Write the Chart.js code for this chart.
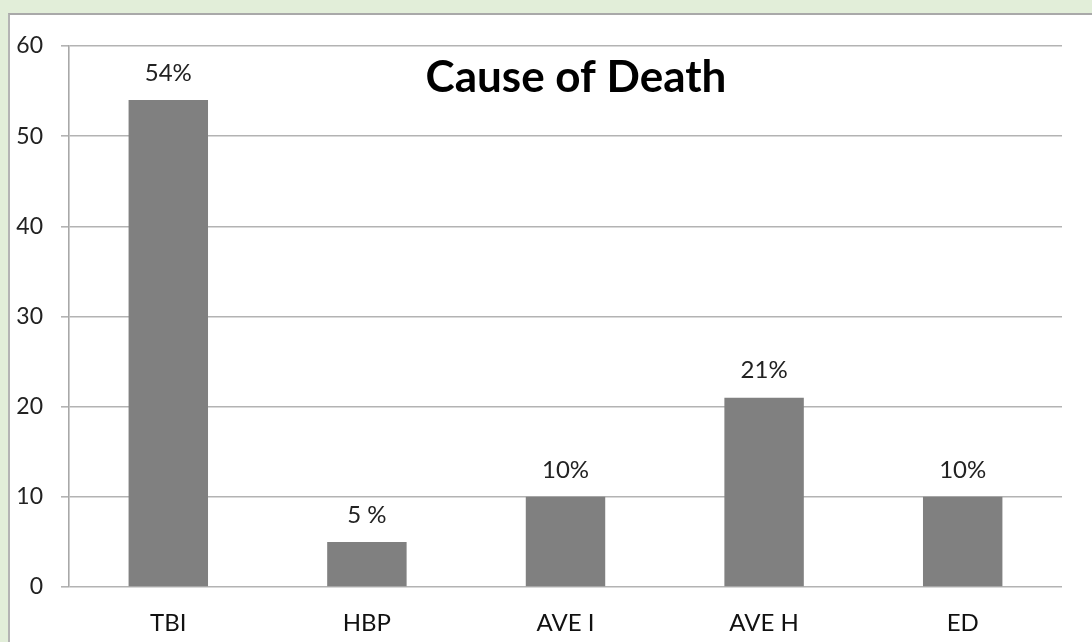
<!DOCTYPE html>
<html>
<head>
<meta charset="utf-8">
<script src="https://cdn.jsdelivr.net/npm/chart.js@4"></script>
<style>
  html, body { margin: 0; padding: 0; }
  body { width: 1092px; height: 642px; background: #e2eed9; position: relative; overflow: hidden; }
  #panel { position: absolute; left: 8px; top: 13px; right: 0; bottom: 0; background: #fff;
           border-top: 2px solid #a9a9a9; border-left: 2px solid #b4b4b4; }
  #wrap { position: absolute; left: 0; top: 0; width: 1092px; height: 642px; }
</style>
</head>
<body>
<div id="panel"></div>
<div id="wrap"><canvas id="deathChart"></canvas></div>
<script>
// Données
const causes = ['TBI', 'HBP', 'AVE I', 'AVE H', 'ED'];
const deaths = [54, 5, 10, 21, 10];
const pctLabels = ['54%', '5 %', '10%', '21%', '10%'];
const chartTitle = 'Cause of Death';

const fontFam = 'Lato, "Open Sans", sans-serif';

// Titre + étiquettes au-dessus des barres
const overlay = {
    id: 'overlay',
    afterDatasetsDraw(chart) {
        const ctx = chart.ctx;
        const meta = chart.getDatasetMeta(0);
        ctx.save();
        ctx.fillStyle = '#222';
        ctx.font = '24px ' + fontFam;
        ctx.textAlign = 'center';
        ctx.textBaseline = 'middle';
        meta.data.forEach(function(bar, i) {
            ctx.fillText(pctLabels[i], bar.x, bar.y - 27);
        });
        ctx.fillStyle = '#000';
        ctx.font = 'bold 44px ' + fontFam;
        ctx.fillText(chartTitle, 576, 78);
        ctx.restore();
    }
};

const ctx = document.getElementById('deathChart').getContext('2d');
new Chart(ctx, {
    type: 'bar',
    data: {
        labels: causes,
        datasets: [{
            data: deaths,
            backgroundColor: '#808080',
            borderWidth: 0,
            categoryPercentage: 1,
            barPercentage: 0.4
        }]
    },
    options: {
        responsive: true,
        maintainAspectRatio: false,
        animation: false,
        layout: { padding: { top: 46, right: 30, left: 0, bottom: 0 } },
        plugins: {
            legend: { display: false },
            tooltip: { enabled: false }
        },
        scales: {
            x: {
                grid: { display: false },
                border: { display: false },
                ticks: { color: '#111', font: { size: 24, family: fontFam }, padding: 14 },
                afterFit(scale) { scale.height = 55; }
            },
            y: {
                min: 0,
                max: 60,
                ticks: { stepSize: 10, color: '#222', font: { size: 23, family: fontFam }, padding: 18 },
                grid: { color: '#b3b3b3', lineWidth: 1.6, tickLength: 8 },
                border: { color: '#a8a8a8', width: 1.6 },
                afterFit(scale) { scale.width = 69; }
            }
        }
    },
    plugins: [overlay]
});
</script>
</body>
</html>
